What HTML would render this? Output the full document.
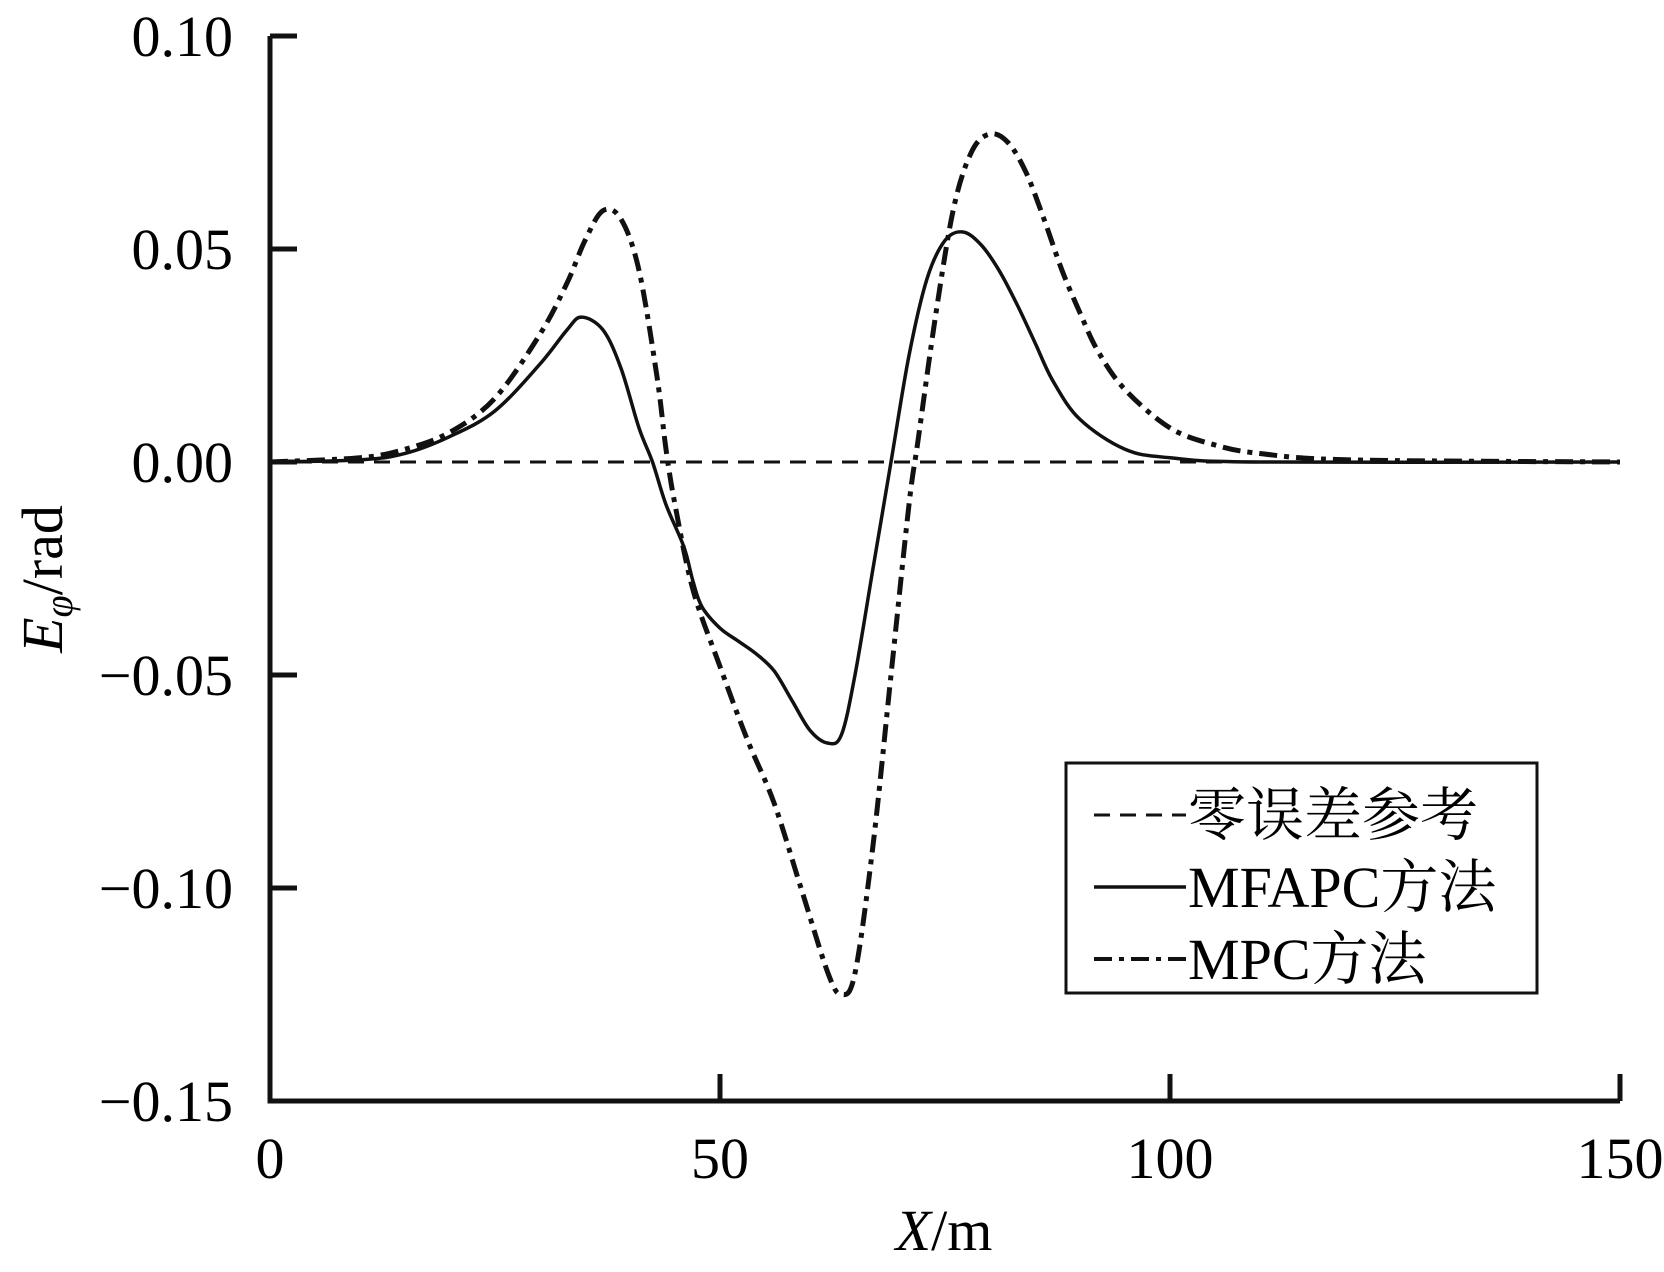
<!DOCTYPE html>
<html><head><meta charset="utf-8"><style>
html,body{margin:0;padding:0;background:#fff}
svg text{font-family:"Liberation Serif","Noto Serif CJK SC","Noto Sans CJK SC",serif;fill:#000}
</style></head><body>
<svg width="1664" height="1267" viewBox="0 0 1664 1267" xmlns="http://www.w3.org/2000/svg">
<g id="plot"></g>
</svg>
<script>
const xTicks=[0,50,100,150];
const yTicks=[0.10,0.05,0.00,-0.05,-0.10,-0.15];
const yTickLabels=["0.10","0.05","0.00","\u22120.05","\u22120.10","\u22120.15"];
const mpcX=[0,10,15,20,25,30,33,35,37,39,41,43,44,45,47,50,53,56,59,62,63.5,65,67,69,71,72,74,76,78,80,82,84,86,88,90,92,95,100,105,110,120,150];
const mpcY=[0,0.001,0.003,0.007,0.015,0.03,0.042,0.052,0.059,0.057,0.045,0.02,0.003,-0.01,-0.03,-0.048,-0.065,-0.08,-0.1,-0.12,-0.125,-0.12,-0.09,-0.05,-0.01,0.005,0.035,0.06,0.073,0.077,0.075,0.068,0.057,0.045,0.035,0.026,0.017,0.008,0.004,0.002,0.0005,0];
const mfX=[0,10,15,20,25,30,33,34.6,37,39,41,42.5,44,46,47,48,50,52,54,56,58,60,62,63.5,65,67,69,71,73,75,77,79,81,83,85,87,90,95,100,110,150];
const mfY=[0,0.0005,0.002,0.006,0.012,0.023,0.031,0.034,0.031,0.022,0.008,0,-0.01,-0.02,-0.028,-0.034,-0.039,-0.042,-0.045,-0.049,-0.056,-0.063,-0.066,-0.064,-0.05,-0.025,0,0.025,0.043,0.052,0.054,0.051,0.045,0.037,0.028,0.019,0.01,0.003,0.001,0,0];
const refX=[0,150];
const refY=[0,0];

const X0=270,X1=1620,Y0=462,PPU=213/0.05;
const sx=v=>X0+(v-0)*(X1-X0)/150;
const sy=v=>Y0-v*PPU;
const NS="http://www.w3.org/2000/svg";
const g=document.getElementById('plot');
function mk(t,a,p){const e=document.createElementNS(NS,t);for(const k in a)e.setAttribute(k,a[k]);(p||g).appendChild(e);return e;}
function smooth(xs,ys){
 const P=xs.map((x,i)=>[sx(x),sy(ys[i])]);
 let d="M"+P[0][0]+","+P[0][1];
 for(let i=0;i<P.length-1;i++){
  const p0=P[Math.max(0,i-1)],p1=P[i],p2=P[i+1],p3=P[Math.min(P.length-1,i+2)];
  const c1=[p1[0]+(p2[0]-p0[0])/6,p1[1]+(p2[1]-p0[1])/6];
  const c2=[p2[0]-(p3[0]-p1[0])/6,p2[1]-(p3[1]-p1[1])/6];
  d+=" C"+c1[0]+","+c1[1]+" "+c2[0]+","+c2[1]+" "+p2[0]+","+p2[1];
 }
 return d;
}
let ax=mk('path',{d:`M${X0},${sy(0.10)} V${sy(-0.15)} H${X1}`,fill:'none',stroke:'#111','stroke-width':5});


yTicks.forEach((v,i)=>{
 const t=mk('line',{x1:X0,x2:X0+27,y1:sy(v),y2:sy(v),stroke:'#111','stroke-width':5});
 
 
 const l=mk('text',{x:233,y:sy(v)+20,'text-anchor':'end','font-size':58});
 l.textContent=yTickLabels[i];
 
 
});
xTicks.forEach(v=>{
 const t=mk('line',{x1:sx(v),x2:sx(v),y1:sy(-0.15),y2:sy(-0.15)-27,stroke:'#111','stroke-width':5});
 
 
 const l=mk('text',{x:sx(v),y:1178,'text-anchor':'middle','font-size':58});
 l.textContent=String(v);
 
 
});
let r=mk('path',{d:`M${sx(refX[0])},${sy(refY[0])} L${sx(refX[1])},${sy(refY[1])}`,stroke:'#111','stroke-width':3,'stroke-dasharray':'16,10',fill:'none'});


let m=mk('path',{d:smooth(mfX,mfY),stroke:'#111','stroke-width':3.5,fill:'none'});


let p=mk('path',{d:smooth(mpcX,mpcY),stroke:'#111','stroke-width':5,fill:'none','stroke-dasharray':'18,7,5,7'});


const lg=mk('g',{});


mk('rect',{x:1066,y:763,width:471,height:230,fill:'#fff',stroke:'#111','stroke-width':3},lg);
const items=[["零误差参考",'16,10',3],["MFAPC方法",'none',3.5],["MPC方法",'18,7,5,7',4]];
items.forEach((it,i)=>{
 const y=815+i*72;
 const e=mk('g',{},lg);
 
 
 mk('line',{x1:1094,x2:1186,y1:y,y2:y,stroke:'#111','stroke-width':it[2],'stroke-dasharray':it[1]},e);
 const t=mk('text',{x:1188,y:y+20,'font-size':58},e);
 t.textContent=it[0];
});
const xt=mk('text',{x:944,y:1250,'text-anchor':'middle','font-size':58});
xt.innerHTML='<tspan font-style="italic">X</tspan>/m';


const yt=mk('text',{x:0,y:0,'text-anchor':'middle','font-size':58,transform:'translate(62,579) rotate(-90)'});
yt.innerHTML='<tspan font-style="italic">E</tspan><tspan font-style="italic" font-size="40" dy="10">φ</tspan><tspan dy="-10">/rad</tspan>';


</script>
</body></html>
